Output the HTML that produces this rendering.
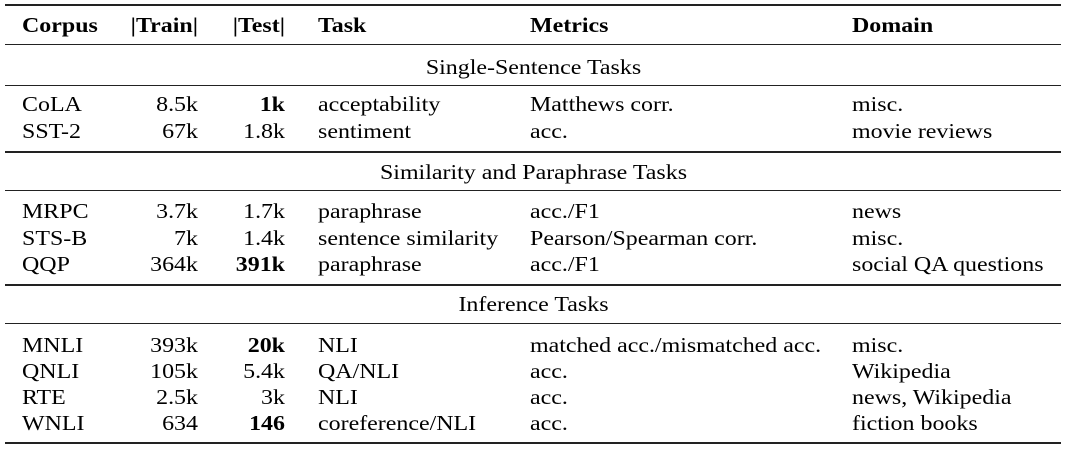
<!DOCTYPE html>
<html><head><style>
body{margin:0;width:1067px;height:449px;background:#fff;position:relative;overflow:hidden;font-family:"Liberation Serif",serif;font-size:21px;color:#000}
.r{position:absolute;left:5px;width:1056px;background:#222}
.t{position:absolute;height:24px;line-height:24px;white-space:nowrap;transform:scaleX(1.14);transform-origin:left center}
.n{text-align:right;transform-origin:right center}
b{font-weight:bold}
.c{left:0;width:1067px;text-align:center;transform-origin:center center}
</style></head><body>
<div class="r" style="top:4px;height:2px"></div>
<div class="r" style="top:44px;height:1px"></div>
<div class="r" style="top:85px;height:1px"></div>
<div class="r" style="top:151px;height:2px"></div>
<div class="r" style="top:190px;height:1px"></div>
<div class="r" style="top:284px;height:2px"></div>
<div class="r" style="top:323px;height:1px"></div>
<div class="r" style="top:442px;height:2px"></div>
<div id="rows"></div>
<script>
const rows=[
[25,"<b>Corpus</b>","<b>|Train|</b>","<b>|Test|</b>","<b>Task</b>","<b>Metrics</b>","<b>Domain</b>"],
[67,"Single-Sentence Tasks"],
[104,"CoLA","8.5k","<b>1k</b>","acceptability","Matthews corr.","misc."],
[131,"SST-2","67k","1.8k","sentiment","acc.","movie reviews"],
[172,"Similarity and Paraphrase Tasks"],
[211,"MRPC","3.7k","1.7k","paraphrase","acc./F1","news"],
[238,"STS-B","7k","1.4k","sentence similarity","Pearson/Spearman corr.","misc."],
[264,"QQP","364k","<b>391k</b>","paraphrase","acc./F1","social QA questions"],
[304,"Inference Tasks"],
[345,"MNLI","393k","<b>20k</b>","NLI","matched acc./mismatched acc.","misc."],
[371,"QNLI","105k","5.4k","QA/NLI","acc.","Wikipedia"],
[397,"RTE","2.5k","3k","NLI","acc.","news, Wikipedia"],
[423,"WNLI","634","<b>146</b>","coreference/NLI","acc.","fiction books"]];
let h="";
for(const r of rows){const t=r[0]-12;
if(r.length==2){h+=`<div class="t c" style="top:${t}px">${r[1]}</div>`;continue;}
h+=`<div class="t" style="top:${t}px;left:22px">${r[1]}</div>`;
h+=`<div class="t n" style="top:${t}px;left:98px;width:100px">${r[2]}</div>`;
h+=`<div class="t n" style="top:${t}px;left:185px;width:100px">${r[3]}</div>`;
h+=`<div class="t" style="top:${t}px;left:318px">${r[4]}</div>`;
h+=`<div class="t" style="top:${t}px;left:530px">${r[5]}</div>`;
h+=`<div class="t" style="top:${t}px;left:852px">${r[6]}</div>`;}
document.getElementById("rows").innerHTML=h;
</script>
</body></html>
